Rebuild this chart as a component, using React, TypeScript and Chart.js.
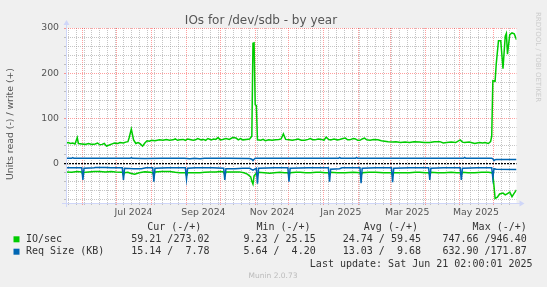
import { useEffect, useRef } from 'react';
import { Chart, registerables } from 'chart.js';

Chart.register(...registerables);

// Days are counted from 2024-06-01 (day 0). Range: 2024-05-17 .. 2025-06-21.
const X_MIN = -15;
const X_MAX = 385;
const Y_MIN = -88;
const Y_MAX = 300;

// IO/sec write (+)
const ioWrite: [number, number][] = [
  [-15, 45], [-13, 46], [-11, 44], [-9, 45], [-7, 43], [-5, 57], [-4, 44], [-1, 43], [2, 42], [5, 44],
  [8, 42], [11, 43], [13, 45], [15, 41], [17, 42], [19, 44], [21, 38], [24, 41], [26, 43], [28, 45],
  [31, 44], [33, 46], [36, 45], [38, 47], [40, 48], [41, 56], [43, 76], [45, 52], [47, 44], [49, 46],
  [51, 43], [53, 38], [55, 45], [57, 50], [59, 49], [61, 51], [64, 50], [68, 52], [71, 51], [74, 53],
  [77, 51], [80, 52], [82, 54], [84, 51], [86, 52], [89, 53], [91, 51], [93, 54], [95, 53], [98, 51],
  [100, 52], [102, 55], [105, 52], [107, 53], [109, 51], [111, 55], [114, 52], [116, 54], [118, 53], [120, 57],
  [122, 52], [124, 53], [127, 55], [130, 53], [133, 57], [136, 56], [138, 52], [140, 55], [142, 52], [145, 53],
  [148, 54], [150, 60], [151, 266], [152, 267], [153, 130], [154, 128], [155, 52], [158, 51], [160, 53], [162, 50],
  [165, 52], [168, 51], [171, 52], [174, 53], [176, 54], [178, 65], [180, 53], [183, 52], [186, 51], [188, 52],
  [191, 54], [194, 51], [197, 51], [200, 53], [202, 55], [204, 52], [206, 52], [209, 54], [212, 53], [214, 51],
  [216, 58], [218, 53], [220, 52], [223, 54], [226, 52], [228, 53], [231, 55], [233, 56], [235, 52], [237, 52],
  [240, 55], [242, 54], [244, 51], [246, 51], [248, 54], [250, 56], [252, 52], [255, 51], [258, 53], [262, 52],
  [265, 50], [268, 49], [271, 48], [275, 47], [278, 48], [282, 46], [286, 47], [290, 46], [294, 48], [299, 47],
  [303, 46], [308, 46], [312, 48], [317, 48], [320, 45], [323, 46], [327, 47], [331, 46], [335, 52], [337, 47],
  [339, 46], [343, 47], [348, 44], [352, 46], [355, 45], [357, 46], [360, 44], [362, 48], [363, 60], [364, 183],
  [366, 182], [367, 220], [369, 272], [371, 272], [373, 210], [375, 282], [376, 288], [377, 242], [379, 285], [381, 289],
  [383, 287], [385, 274],
];

// IO/sec read (-), stored as positive read values
const ioRead: [number, number][] = [
  [-15, 19], [-10, 20], [-5, 18], [-1, 19], [0, 26], [1, 20], [5, 19], [10, 18], [15, 18], [20, 19],
  [25, 18], [29, 19], [35, 20], [36, 26], [37, 21], [40, 20], [42, 22], [46, 24], [50, 21], [55, 19],
  [60, 20], [62, 21], [63, 27], [64, 19], [70, 18], [77, 18], [82, 20], [86, 21], [91, 21], [92, 27],
  [93, 21], [98, 21], [104, 21], [108, 20], [113, 19], [118, 19], [122, 18], [125, 19], [126, 26], [127, 19],
  [133, 19], [139, 19], [143, 21], [146, 24], [149, 30], [150, 40], [151, 46], [152, 28], [154, 22], [155, 27],
  [156, 20], [161, 21], [166, 22], [170, 21], [175, 20], [179, 21], [182, 21], [183, 26], [184, 21], [189, 20],
  [193, 20], [198, 21], [202, 21], [207, 20], [211, 20], [215, 21], [218, 21], [219, 26], [220, 20], [226, 21],
  [233, 21], [240, 20], [246, 21], [247, 27], [248, 21], [254, 20], [260, 20], [267, 21], [274, 21], [275, 27],
  [276, 21], [283, 21], [290, 21], [295, 20], [299, 20], [304, 21], [307, 21], [308, 25], [309, 20], [315, 21],
  [321, 21], [327, 20], [332, 21], [335, 21], [336, 25], [337, 20], [342, 21], [348, 21], [354, 20], [360, 20],
  [363, 21], [364, 24], [365, 50], [366, 78], [368, 75], [370, 68], [373, 66], [375, 70], [377, 67], [379, 64],
  [381, 74], [383, 66], [385, 59],
];

// Req Size (KB) write (+)
const reqWrite: [number, number][] = [
  [-15, 11], [-10, 11], [-9, 12.5], [-8, 11], [20, 11], [42, 11], [43, 12.5], [44, 11], [55, 10.5], [70, 11],
  [90, 11], [95, 10], [99, 11], [104, 10], [108, 11], [130, 11], [148, 10.5], [150, 9], [151, 6], [152, 9],
  [153, 11], [200, 11], [227, 11], [228, 13], [229, 11], [242, 11], [243, 13], [244, 11], [300, 11], [338, 11],
  [339, 13], [340, 11], [363, 11], [364, 10], [365, 6], [366, 8], [367, 8.5], [385, 8.5],
];

// Req Size (KB) read (-), stored as positive read values
const reqRead: [number, number][] = [
  [-15, 10], [-1, 10], [0, 37], [1, 11], [10, 10], [11, 9.5], [20, 9.5], [25, 10], [35, 10], [36, 37],
  [37, 11], [45, 12], [52, 12], [56, 10], [62, 10], [63, 41], [64, 11], [75, 10], [91, 10], [92, 35],
  [93, 11], [100, 10], [115, 10], [125, 11], [126, 37], [127, 12], [135, 12], [142, 11], [148, 11], [151, 15],
  [154, 11], [155, 45], [156, 11], [170, 10], [182, 10], [183, 41], [184, 11], [200, 10], [218, 10], [219, 41],
  [220, 13], [228, 12], [230, 10], [246, 10], [247, 44], [248, 11], [260, 10], [274, 10], [275, 42], [276, 11],
  [290, 10], [307, 10], [308, 37], [309, 11], [320, 10], [335, 10], [336, 37], [337, 11], [350, 10], [363, 10],
  [364, 33], [365, 12], [367, 13], [385, 14],
];

// x-axis labels: [year, monthIndex, text]
const xLabels: [number, number, string][] = [
  [2024, 6, 'Jul 2024'], [2024, 8, 'Sep 2024'], [2024, 10, 'Nov 2024'],
  [2025, 0, 'Jan 2025'], [2025, 2, 'Mar 2025'], [2025, 4, 'May 2025'],
];
const yLabelValues = [0, 100, 200, 300];

const legendHeaders = ['Cur (-/+)', 'Min (-/+)', 'Avg (-/+)', 'Max (-/+)'];
const legendRows: { name: string; color: string; values: string[] }[] = [
  { name: 'IO/sec', color: '#00CC00', values: ['59.21 /273.02', ' 9.23 / 25.15', '24.74 / 59.45', '747.66 /946.40'] },
  { name: 'Req Size (KB)', color: '#0066B3', values: ['15.14 /  7.78', ' 5.64 /  4.20', '13.03 /  9.68', '632.90 /171.87'] },
];
const lastUpdate = 'Last update: Sat Jun 21 02:00:01 2025';
const titleText = 'IOs for /dev/sdb - by year';
const yTitle = 'Units read (-) / write (+)';

const DAY0 = Date.UTC(2024, 5, 1);
const dayOf = (y: number, m: number, d: number) => Math.round((Date.UTC(y, m, d) - DAY0) / 86400000);

const FONT = '"DejaVu Sans", sans-serif';
const MONO = '"DejaVu Sans Mono", monospace';
const AXIS = '#CFD6F8';
const TEXT = '#555555';
const MINOR = 'rgba(150,150,150,0.55)';
const MAJOR = 'rgba(255,0,0,0.38)';

function buildXTicks() {
  const kinds = new Map<number, string>();
  const labels = new Map<number, string>();
  for (let d = 1 - 7 * 3; d <= X_MAX; d += 7) if (d >= X_MIN) kinds.set(d, 'week');
  for (let y = 2024; y <= 2025; y++) {
    for (let m = 0; m < 12; m++) {
      const d = dayOf(y, m, 1);
      if (d >= X_MIN && d <= X_MAX) kinds.set(d, 'month');
    }
  }
  for (const [y, m, t] of xLabels) {
    const d = dayOf(y, m, 1) + 15;
    labels.set(d, t);
    if (!kinds.has(d)) kinds.set(d, 'label');
  }
  return { kinds, labels };
}

const xTickInfo = buildXTicks();

const decor = {
  id: 'decor',
  beforeDraw(chart: any) {
    const { ctx, chartArea: a } = chart;
    ctx.save();
    ctx.fillStyle = '#F0F0F0';
    ctx.fillRect(0, 0, chart.width, chart.height);
    ctx.fillStyle = '#FFFFFF';
    ctx.fillRect(a.left, a.top, a.right - a.left, a.bottom - a.top);
    ctx.restore();
  },
  afterDraw(chart: any) {
    const { ctx, chartArea: a } = chart;
    ctx.save();
    // axes with arrows
    ctx.strokeStyle = AXIS;
    ctx.fillStyle = AXIS;
    ctx.lineWidth = 1;
    const bx = Math.round(a.left) + 0.5;
    const by = Math.round(a.bottom) + 0.5;
    ctx.beginPath();
    ctx.moveTo(a.left - 4, by);
    ctx.lineTo(a.right + 4, by);
    ctx.moveTo(bx, a.bottom + 4);
    ctx.lineTo(bx, a.top - 4);
    ctx.stroke();
    ctx.beginPath();
    ctx.moveTo(a.right + 3, by - 3);
    ctx.lineTo(a.right + 8, by);
    ctx.lineTo(a.right + 3, by + 3);
    ctx.closePath();
    ctx.fill();
    ctx.beginPath();
    ctx.moveTo(bx - 3, a.top - 3);
    ctx.lineTo(bx, a.top - 8);
    ctx.lineTo(bx + 3, a.top - 3);
    ctx.closePath();
    ctx.fill();

    // title
    ctx.fillStyle = TEXT;
    ctx.font = `12px ${FONT}`;
    ctx.textAlign = 'center';
    ctx.textBaseline = 'alphabetic';
    ctx.fillText(titleText, 261, 24);

    // y title
    ctx.save();
    ctx.translate(10.5, 124);
    ctx.rotate(-Math.PI / 2);
    ctx.font = `9.33px ${FONT}`;
    ctx.textBaseline = 'middle';
    ctx.textAlign = 'center';
    ctx.fillText(yTitle, 0, 0);
    ctx.restore();

    // watermark
    ctx.save();
    ctx.translate(538, 57);
    ctx.rotate(Math.PI / 2);
    ctx.font = `7px ${FONT}`;
    ctx.fillStyle = '#CCCCCC';
    ctx.textAlign = 'center';
    ctx.textBaseline = 'middle';
    ctx.fillText('RRDTOOL / TOBI OETIKER', 0, 0);
    ctx.restore();

    // legend
    ctx.font = `10px ${MONO}`;
    ctx.fillStyle = '#333333';
    ctx.textBaseline = 'middle';
    ctx.textAlign = 'left';
    const headerX = [147.2, 256.4, 363.8, 472.6];
    legendHeaders.forEach((h, i) => ctx.fillText(h, headerX[i], 227.7));
    const colEnd = [209.5, 315.7, 421, 526.7];
    const rowY = [239.3, 251.7];
    legendRows.forEach((r, j) => {
      ctx.fillStyle = r.color;
      ctx.fillRect(13.5, rowY[j] - 3, 6, 6);
      ctx.fillStyle = '#333333';
      ctx.textAlign = 'left';
      ctx.fillText(r.name, 26, rowY[j]);
      ctx.textAlign = 'right';
      r.values.forEach((v, i) => ctx.fillText(v, colEnd[i], rowY[j]));
    });
    ctx.textAlign = 'right';
    ctx.fillText(lastUpdate, 532.6, 264);

    ctx.font = `7.5px ${FONT}`;
    ctx.fillStyle = '#BBBBBB';
    ctx.textAlign = 'center';
    ctx.fillText('Munin 2.0.73', 273, 276);
    ctx.restore();
  },
};

function toPts(src: [number, number][], sign: number) {
  return src.map(([x, y]) => ({ x, y: sign * y }));
}

export default function App() {
  const ref = useRef<HTMLCanvasElement | null>(null);
  useEffect(() => {
    if (!ref.current) return;
    const line = (label: string, data: any[], color: string) => ({
      label,
      data,
      borderColor: color,
      backgroundColor: color,
      borderWidth: 1.5,
      pointRadius: 0,
      tension: 0,
      fill: false,
    });
    const chart = new Chart(ref.current, {
      type: 'line',
      data: {
        datasets: [
          line('Req Size write', toPts(reqWrite, 1), '#0066B3'),
          line('Req Size read', toPts(reqRead, -1), '#0066B3'),
          line('IO/sec write', toPts(ioWrite, 1), '#00CC00'),
          line('IO/sec read', toPts(ioRead, -1), '#00CC00'),
        ],
      },
      options: {
        animation: false,
        responsive: false,
        devicePixelRatio: 1,
        events: [],
        layout: { padding: { left: 0, top: 28, right: 30.5, bottom: 0 } },
        plugins: { legend: { display: false }, title: { display: false }, tooltip: { enabled: false } },
        scales: {
          x: {
            type: 'linear',
            min: X_MIN,
            max: X_MAX,
            afterBuildTicks: (scale: any) => {
              scale.ticks = Array.from(xTickInfo.kinds.keys()).sort((p, q) => p - q).map((v) => ({ value: v }));
            },
            afterFit: (scale: any) => {
              scale.height = 84;
            },
            grid: {
              color: (c: any) => {
                const k = xTickInfo.kinds.get(c.tick?.value);
                return k === 'month' ? MAJOR : k === 'week' ? MINOR : 'rgba(0,0,0,0)';
              },
              tickColor: (c: any) => {
                const k = xTickInfo.kinds.get(c.tick?.value);
                return k === 'month' ? MAJOR : k === 'week' ? MINOR : 'rgba(0,0,0,0)';
              },
              lineWidth: 1,
              drawTicks: true,
              tickLength: 2,
            },
            border: { display: false, dash: [1, 1] },
            ticks: {
              autoSkip: false,
              maxRotation: 0,
              minRotation: 0,
              padding: 2.4,
              color: TEXT,
              font: { family: 'DejaVu Sans', size: 9.33 },
              callback: (v: any) => xTickInfo.labels.get(v) ?? '',
            },
          },
          y: {
            type: 'linear',
            min: Y_MIN,
            max: Y_MAX,
            afterBuildTicks: (scale: any) => {
              const t = [];
              for (let v = -80; v <= 300; v += 20) t.push({ value: v });
              scale.ticks = t;
            },
            afterFit: (scale: any) => {
              scale.width = 66;
            },
            grid: {
              color: (c: any) => {
                const v = c.tick?.value;
                if (v === 0) return '#000000';
                return v % 100 === 0 ? MAJOR : MINOR;
              },
              tickColor: (c: any) => {
                const v = c.tick?.value;
                if (v === 0) return '#000000';
                return v % 100 === 0 ? MAJOR : MINOR;
              },
              lineWidth: (c: any) => (c.tick?.value === 0 ? 1.2 : 1),
              drawTicks: true,
              tickLength: 2,
            },
            border: {
              display: false,
              dash: (c: any) => (c.tick?.value === 0 ? [2, 1] : [1, 1]),
            },
            ticks: {
              autoSkip: false,
              padding: 5,
              color: TEXT,
              font: { family: 'DejaVu Sans', size: 9.33 },
              callback: (v: any) => (yLabelValues.includes(v) ? String(v) : ''),
            },
          },
        },
      },
      plugins: [decor],
    });
    return () => chart.destroy();
  }, []);
  return (
    <div style={{ position: 'fixed', left: 0, top: 0, width: 547, height: 287 }}>
      <canvas ref={ref} width={547} height={287} style={{ width: 547, height: 287, display: 'block' }} />
    </div>
  );
}
